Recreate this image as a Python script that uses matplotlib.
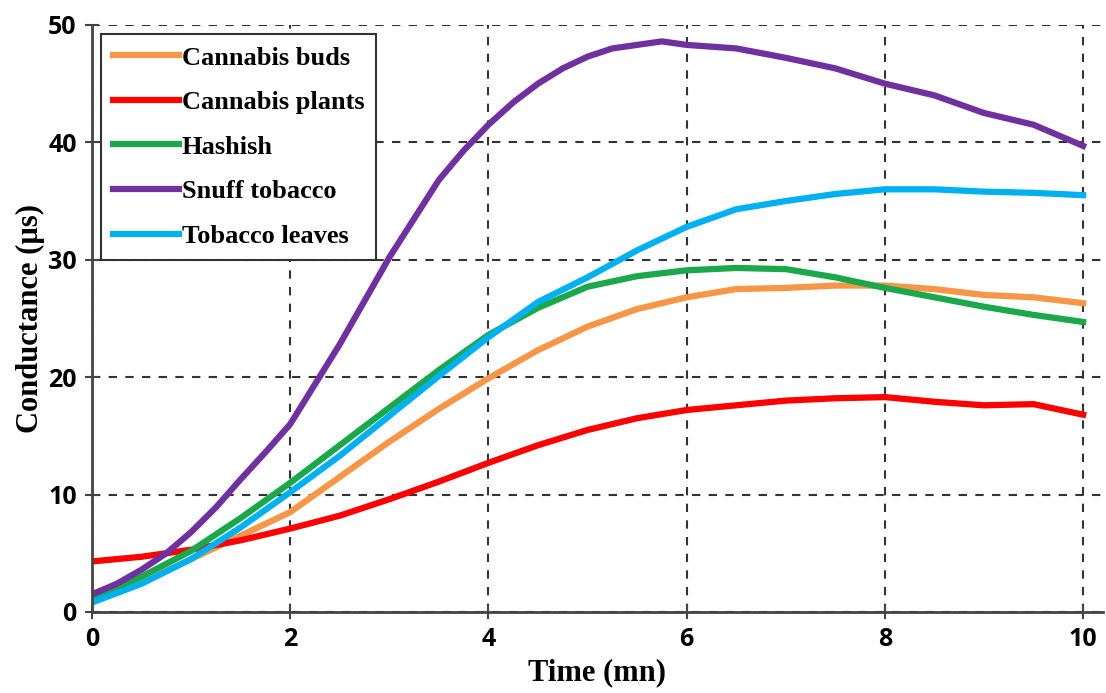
import matplotlib.pyplot as plt
import numpy as np

# time (mn) sample points
t = [0, 0.5, 1, 1.5, 2, 2.5, 3, 3.5, 4, 4.5, 5, 5.5, 6, 6.5, 7, 7.5, 8, 8.5, 9, 9.5, 10]

buds = [1.0, 2.5, 4.5, 6.5, 8.5, 11.5, 14.5, 17.3, 19.9, 22.3, 24.3, 25.8, 26.8, 27.5, 27.6, 27.8, 27.8, 27.5, 27.0, 26.8, 26.3]
plants = [4.3, 4.7, 5.3, 6.1, 7.1, 8.2, 9.6, 11.1, 12.7, 14.2, 15.5, 16.5, 17.2, 17.6, 18.0, 18.2, 18.3, 17.9, 17.6, 17.7, 16.8]
hashish = [1.2, 3.0, 5.2, 8.0, 11.0, 14.2, 17.4, 20.6, 23.6, 25.9, 27.7, 28.6, 29.1, 29.3, 29.2, 28.5, 27.6, 26.8, 26.0, 25.3, 24.7]
leaves = [0.8, 2.4, 4.5, 7.2, 10.2, 13.3, 16.7, 20.1, 23.4, 26.4, 28.5, 30.8, 32.8, 34.3, 35.0, 35.6, 36.0, 36.0, 35.8, 35.7, 35.5]

# snuff tobacco rises steeply, so read at a finer step
t_snuff = [0, 0.25, 0.5, 0.75, 1, 1.25, 1.5, 1.75, 2, 2.25, 2.5, 2.75, 3, 3.25, 3.5, 3.75, 4, 4.25,
           4.5, 4.75, 5, 5.25, 5.5, 5.75, 6, 6.5, 7, 7.5, 8, 8.5, 9, 9.5, 10]
snuff = [1.5, 2.4, 3.6, 5.0, 6.8, 8.9, 11.3, 13.6, 16.0, 19.4, 22.8, 26.5, 30.2, 33.5, 36.8, 39.3, 41.5, 43.4,
         45.0, 46.3, 47.3, 48.0, 48.3, 48.6, 48.3, 48.0, 47.2, 46.3, 45.0, 44.0, 42.5, 41.5, 39.7]

names = ["Cannabis buds", "Cannabis plants", "Hashish", "Snuff tobacco", "Tobacco leaves"]
colors = ["#F79646", "#FF0000", "#1BA84A", "#7030A0", "#00B0F0"]

fig = plt.figure(figsize=(11.06, 6.93), dpi=100)
ax = fig.add_axes([0.0832, 0.117, 0.914, 0.847])

series = [(t, buds), (t, plants), (t, hashish), (t_snuff, snuff), (t, leaves)]
for (x, y), name, c in zip(series, names, colors):
    ax.plot(x, y, color=c, lw=4.5, label=name)

ax.set_xlim(0, 10.2)
ax.set_ylim(0, 50)
ax.set_xticks([0, 2, 4, 6, 8, 10])
ax.set_yticks([0, 10, 20, 30, 40, 50])
ax.grid(True, color='#333333', linestyle=(0, (4, 4)), linewidth=1.5)
ax.set_axisbelow(True)

for s in ['top', 'right']:
    ax.spines[s].set_visible(False)
for s in ['left', 'bottom']:
    ax.spines[s].set_color('#444444')
    ax.spines[s].set_linewidth(2)

ax.tick_params(direction='inout', length=10, width=1.5, color='#444444', pad=6)
for lab in ax.get_xticklabels() + ax.get_yticklabels():
    lab.set_fontfamily('Open Sans')
    lab.set_fontweight('bold')
    lab.set_fontsize(18)

ax.set_xlabel("Time (mn)", fontfamily='Liberation Serif', fontweight='bold', fontsize=22, labelpad=4)
ax.set_ylabel("Conductance (µs)", fontfamily='Liberation Serif', fontweight='bold', fontsize=22, labelpad=2)

leg = ax.legend(loc='upper left', bbox_to_anchor=(0.0, 1.0), fancybox=False, framealpha=1,
                edgecolor='#333333', handlelength=2.5, handletextpad=0.1, labelspacing=0.8,
                borderpad=0.45, borderaxespad=0.35,
                prop={'family': 'Liberation Serif', 'weight': 'bold', 'size': 19})
leg.get_frame().set_linewidth(1.5)

fig.savefig("out.png", dpi=100)
